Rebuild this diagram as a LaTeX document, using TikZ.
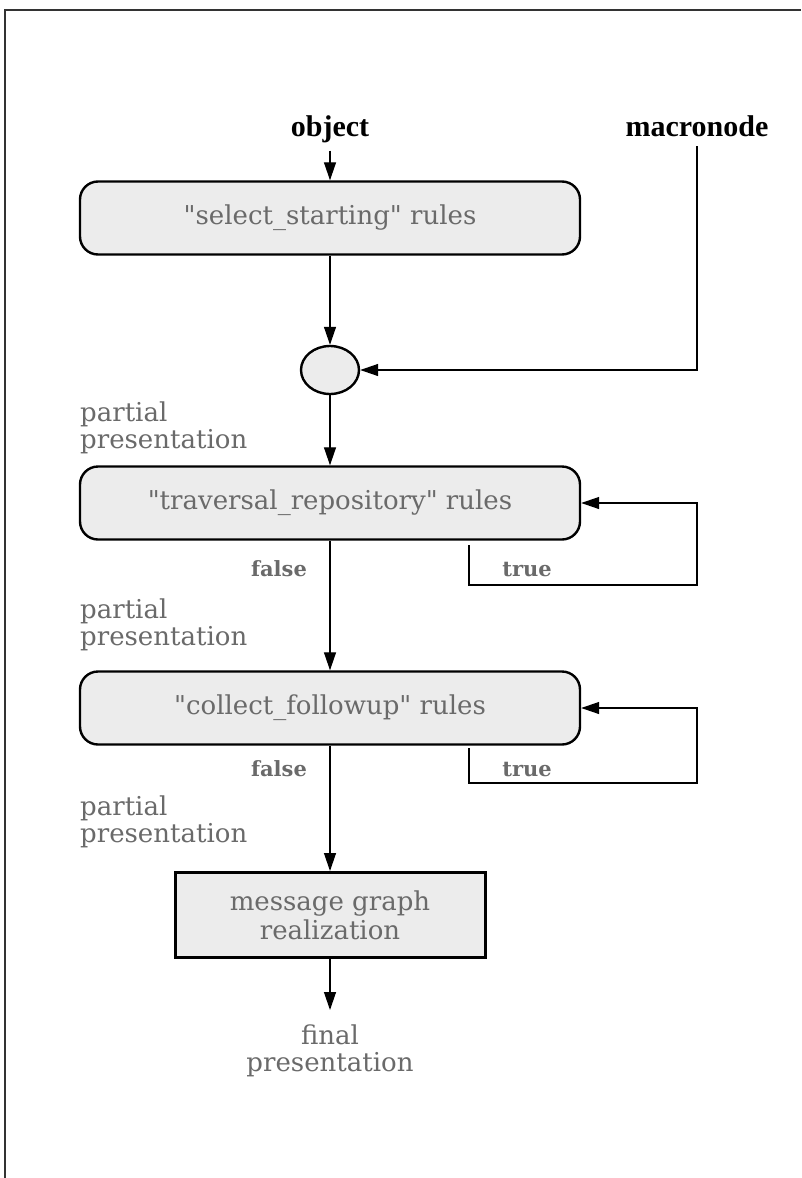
\documentclass[tikz,border=0pt]{standalone}
\usepackage{fontspec}
\setmainfont{DejaVu Serif}
% plain family: keeps the straight double quote as typed
\newfontfamily\plainserif{DejaVu Serif}
\newfontfamily\headfont{Liberation Serif}
\usetikzlibrary{arrows.meta,shapes.geometric}
\definecolor{boxfill}{HTML}{ECECEC}
\definecolor{txtgray}{HTML}{6A6A6A}
\definecolor{framegray}{HTML}{333333}
\newcommand\us{\symbol{"5F}}
\begin{document}
\begin{tikzpicture}[x=1pt,y=-1pt,
  wire/.style={line width=1.3pt},
  arr/.style={wire, -{Triangle[length=18pt,width=12pt]}},
  rulebox/.style={draw, line width=2.4pt, fill=boxfill, rounded corners=18pt,
    minimum width=500pt, minimum height=73pt, text=txtgray,
    font=\plainserif\fontsize{26}{31}\selectfont, inner sep=0pt},
  realbox/.style={draw, line width=3pt, fill=boxfill, minimum width=310pt,
    minimum height=85pt, text=txtgray, font=\plainserif\fontsize{26}{29}\selectfont,
    align=center, inner sep=0pt},
  toplabel/.style={font=\headfont\bfseries\fontsize{30}{36}\selectfont, inner sep=0pt},
  flowlabel/.style={text=txtgray, font=\plainserif\fontsize{26}{27}\selectfont, align=left, inner sep=0pt},
  branch/.style={text=txtgray, font=\plainserif\bfseries\fontsize{21}{25}\selectfont, inner sep=0pt}]

\useasboundingbox (0,0) rectangle (801,1178);
% page frame (top and left edges)
\draw[framegray, line width=2pt] (5,1178) -- (5,10) -- (801,10);

% inputs
\node[toplabel, anchor=base] (obj) at (330,136) {object};
\node[toplabel, anchor=base] (mac) at (697,136) {macronode};

% rule stages
\node[rulebox] (sel) at (330,218) {"select\us starting" rules};
\node[ellipse, draw, line width=2.4pt, fill=boxfill, minimum width=58pt,
      minimum height=48pt, inner sep=0pt] (ell) at (330,370) {};
\node[rulebox] (trav) at (330,503) {"traversal\us repository" rules};
\node[rulebox] (coll) at (330,708) {"collect\us followup" rules};
\node[realbox] (real) at (330,915) {message graph\\realization};

% intermediate results
\node[flowlabel, anchor=north west] (pp1) at (80,402) {partial\\presentation};
\node[flowlabel, anchor=north west] (pp2) at (80,599) {partial\\presentation};
\node[flowlabel, anchor=north west] (pp3) at (80,796) {partial\\presentation};
\node[flowlabel, align=center, anchor=north] (final) at (330,1025) {final\\presentation};

% branch labels
\node[branch, anchor=base] (f1) at (279,576) {false};
\node[branch, anchor=base] (t1) at (527,576) {true};
\node[branch, anchor=base] (f2) at (279,776) {false};
\node[branch, anchor=base] (t2) at (527,776) {true};

% main flow
\draw[arr, shorten <=8pt] (obj) -- (sel);
\coordinate (macout) at (697,146);
\draw[arr] (macout) |- (ell.east);
\draw[arr] (sel) -- (ell);
\draw[arr] (ell) -- (trav);
\draw[arr] (trav) -- (coll);
\draw[arr] (coll) -- (real);
\coordinate (finout) at (330,1010);
\draw[arr] (real) -- (finout);

% repeat loops
\coordinate (l1a) at (469,545);
\coordinate (l1b) at (697,585);
\draw[arr] (l1a) |- (l1b) |- (trav.east);
\coordinate (l2a) at (469,748);
\coordinate (l2b) at (697,783);
\draw[arr] (l2a) |- (l2b) |- (coll.east);
\end{tikzpicture}
\end{document}
